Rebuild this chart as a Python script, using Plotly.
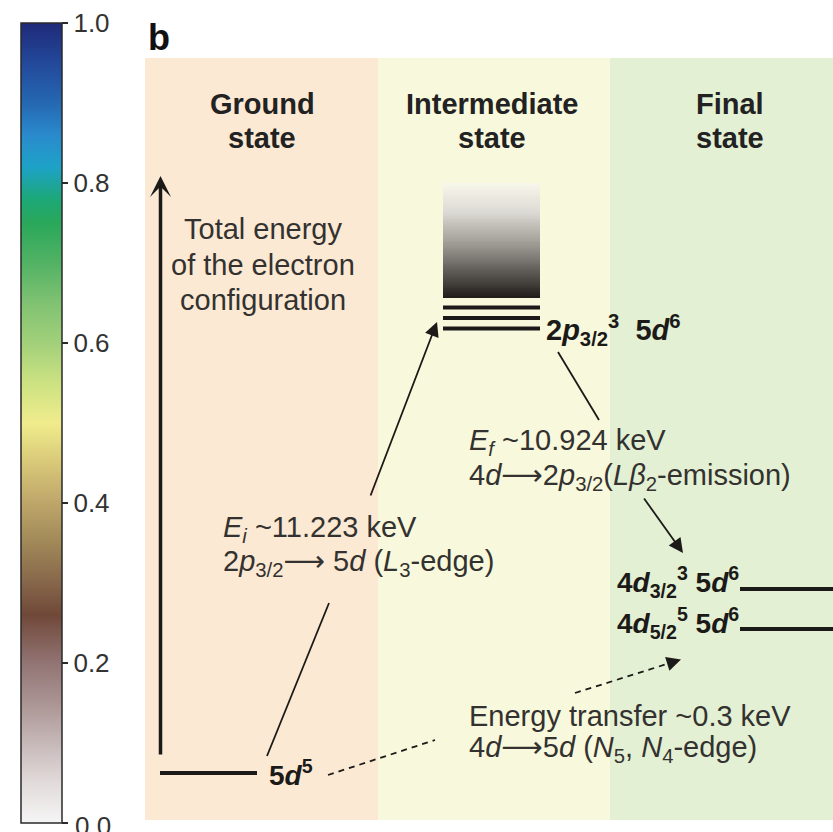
import numpy as np
import plotly.graph_objects as go

# ---------------------------------------------------------------- content
state_titles = [("Ground", "state"), ("Intermediate", "state"), ("Final", "state")]
state_fills = ["#fce9d3", "#f8f8dc", "#e4f0d3"]

incident_kev = 11.223          # 2p3/2 -> 5d  (L3-edge)
emitted_kev = 10.924           # 4d -> 2p3/2  (Lbeta2 emission)
transfer_kev = 0.3             # 4d -> 5d     (N5, N4-edge)

ARROW = "<span style='font-family:DejaVu Sans'>⟶</span>"
energy_axis_text = ["Total energy", "of the electron", "configuration"]
ground_label = "<b>5<i>d</i><sup>5</sup></b>"
intermediate_label = "<b>2<i>p</i><sub>3/2</sub><sup>3</sup>  5<i>d</i><sup>6</sup></b>"
final_labels = ["<b>4<i>d</i><sub>3/2</sub><sup>3</sup> 5<i>d</i><sup>6</sup></b>",
                "<b>4<i>d</i><sub>5/2</sub><sup>5</sup> 5<i>d</i><sup>6</sup></b>"]

absorption_text = [f"<i>E</i><sub><i>i</i></sub> ~{incident_kev:.3f} keV",
                   f"2<i>p</i><sub>3/2</sub>{ARROW} 5<i>d</i> (<i>L</i><sub>3</sub>-edge)"]
emission_text = [f"<i>E</i><sub><i>f</i></sub> ~{emitted_kev:.3f} keV",
                  f"4<i>d</i>{ARROW}2<i>p</i><sub>3/2</sub>(<i>Lβ</i><sub>2</sub>-emission)"]
transfer_text = [f"Energy transfer ~{transfer_kev:.1f} keV",
                 f"4<i>d</i>{ARROW}5<i>d</i> (<i>N</i><sub>5</sub>, <i>N</i><sub>4</sub>-edge)"]

cbar_ticks = [0.0, 0.2, 0.4, 0.6, 0.8, 1.0]
cbar_ticktext = ["0.0", "0.2", "0.4", "0.6", "0.8", "1.0"]
cbar_scale = [
    [0.00, "#f6f5f5"], [0.05, "#e2dbdb"], [0.10, "#c7b8b8"], [0.15, "#ab9494"],
    [0.20, "#927474"], [0.26, "#704838"], [0.30, "#86664a"], [0.35, "#a08858"],
    [0.40, "#bea66a"], [0.45, "#d8c878"], [0.50, "#f0ec8c"], [0.55, "#cce282"],
    [0.60, "#a2d07a"], [0.65, "#80c272"], [0.70, "#52b264"], [0.75, "#2aa85a"],
    [0.78, "#1ca878"], [0.82, "#1ea2c8"], [0.86, "#2a8acc"], [0.90, "#2568b2"],
    [0.95, "#23489a"], [1.00, "#1f2a78"],
]

# ---------------------------------------------------------------- geometry (px)
W, H = 833, 832
cbar_top, cbar_bottom = 23, 823
panel_top, panel_bottom = 58, 820
state_edges = [145, 378, 610, 833]
header_x = [262, 492, 730]
ink = "#1b1a18"
text_col = "#333230"
FONT = "Liberation Sans, Arial"
CBAR_FONT = dict(family=FONT, size=26, color="#333333")

fig = go.Figure()

# colour bar carried by an off-canvas marker; the lowest label sits past the
# page edge, so it is written separately below
fig.add_trace(go.Scatter(
    x=[-100], y=[-100], mode="markers", hoverinfo="skip", showlegend=False,
    marker=dict(
        color=[0.5], cmin=0, cmax=1, colorscale=cbar_scale, showscale=True, size=1,
        colorbar=dict(
            xref="container", yref="container", x=21 / W, xanchor="left",
            y=1 - cbar_top / H, yanchor="top", len=cbar_bottom - cbar_top,
            lenmode="pixels", thickness=41, xpad=0, ypad=0,
            outlinewidth=1.5, outlinecolor="#2a2a2a",
            ticks="outside", ticklen=6, tickwidth=1.5, tickcolor="#2a2a2a",
            tickvals=cbar_ticks, ticktext=[""] + cbar_ticktext[1:],
            tickfont=CBAR_FONT,
        ),
    ),
))

# intermediate-state continuum: shaded band fading upward
n_band = 60
band_edges = np.linspace(298, 183, n_band + 1)
band_z = np.linspace(0, 1, n_band).reshape(-1, 1)
fig.add_trace(go.Heatmap(
    x=[443, 540], y=band_edges, z=band_z, showscale=False, hoverinfo="skip",
    zmin=0, zmax=1,
    colorscale=[[0, "#221e1b"], [0.15, "#4a4642"], [0.45, "#9a9690"],
                [0.75, "#dcdad4"], [1, "#f7f6ea"]],
))

shapes = []
for (x0, x1), fill in zip(zip(state_edges[:-1], state_edges[1:]), state_fills):
    shapes.append(dict(type="rect", xref="x", yref="y", x0=x0, x1=x1,
                       y0=panel_top, y1=panel_bottom, fillcolor=fill,
                       line=dict(width=0), layer="below"))


def hline(x0, x1, y, w=4):
    shapes.append(dict(type="line", xref="x", yref="y", x0=x0, x1=x1, y0=y, y1=y,
                       line=dict(color=ink, width=w)))


def seg(x0, y0, x1, y1, w=1.8, dash=None):
    shapes.append(dict(type="line", xref="x", yref="y", x0=x0, y0=y0, x1=x1, y1=y1,
                       line=dict(color=ink, width=w, dash=dash)))


# energy levels
hline(160, 257, 773)
for y in (307.5, 318, 328.5):
    hline(443, 540, y)
hline(740, 833, 589)
hline(740, 833, 629)

# transition paths (gaps left for the labels)
seg(267, 756, 329, 603)
seg(558, 352, 599, 420)
seg(328, 775, 435, 740, w=1.8, dash="6px,5px")
seg(575, 693, 670, 663, w=1.8, dash="6px,5px")

annotations = []


def arrow(x0, y0, x1, y1, w=1.8, head=2, size=1.6):
    annotations.append(dict(x=x1, y=y1, ax=x0, ay=y0, xref="x", yref="y",
                            axref="x", ayref="y", text="", showarrow=True,
                            arrowhead=head, arrowsize=size, arrowwidth=w,
                            arrowcolor=ink, standoff=0, startstandoff=0))


arrow(160.5, 756, 160.5, 176, w=3.5, head=3, size=1.0)
arrow(370, 497, 437, 322)
arrow(643, 497, 683, 553)
arrow(668, 663.6, 681, 659.5)


def label(text, x, y, size=29, anchor="left", color=text_col):
    annotations.append(dict(x=x, y=y, xref="x", yref="y", text=text, showarrow=False,
                            xanchor=anchor, yanchor="middle",
                            font=dict(family=FONT, size=size, color=color)))


label(cbar_ticktext[0], 73, 826, size=26, color="#333333")
label("<b>b</b>", 146, 37, size=36, color="#111111")
for (l1, l2), x in zip(state_titles, header_x):
    label(f"<b>{l1}</b>", x, 104, size=29, anchor="center", color="#222222")
    label(f"<b>{l2}</b>", x, 138, size=29, anchor="center", color="#222222")

for t, y in zip(energy_axis_text, (229, 265, 300)):
    label(t, 263, y, anchor="center")

for t, y in zip(absorption_text, (529, 562)):
    label(t, 221, y)
for t, y in zip(emission_text, (442, 476)):
    label(t, 467, y)
for t, y in zip(transfer_text, (716, 748)):
    label(t, 467, y)

label(ground_label, 267, 773, size=28, color=ink)
label(intermediate_label, 544, 330, size=29, color=ink)
label(final_labels[0], 741, 582, size=28, anchor="right", color=ink)
label(final_labels[1], 741, 623, size=28, anchor="right", color=ink)

fig.update_layout(
    width=W, height=H, autosize=False,
    margin=dict(l=0, r=0, t=0, b=0, pad=0, autoexpand=False),
    paper_bgcolor="white", plot_bgcolor="white",
    xaxis=dict(range=[0, W], visible=False, fixedrange=True),
    yaxis=dict(range=[H, 0], visible=False, fixedrange=True),
    shapes=shapes, annotations=annotations, showlegend=False,
)

fig.write_html("out.html")
